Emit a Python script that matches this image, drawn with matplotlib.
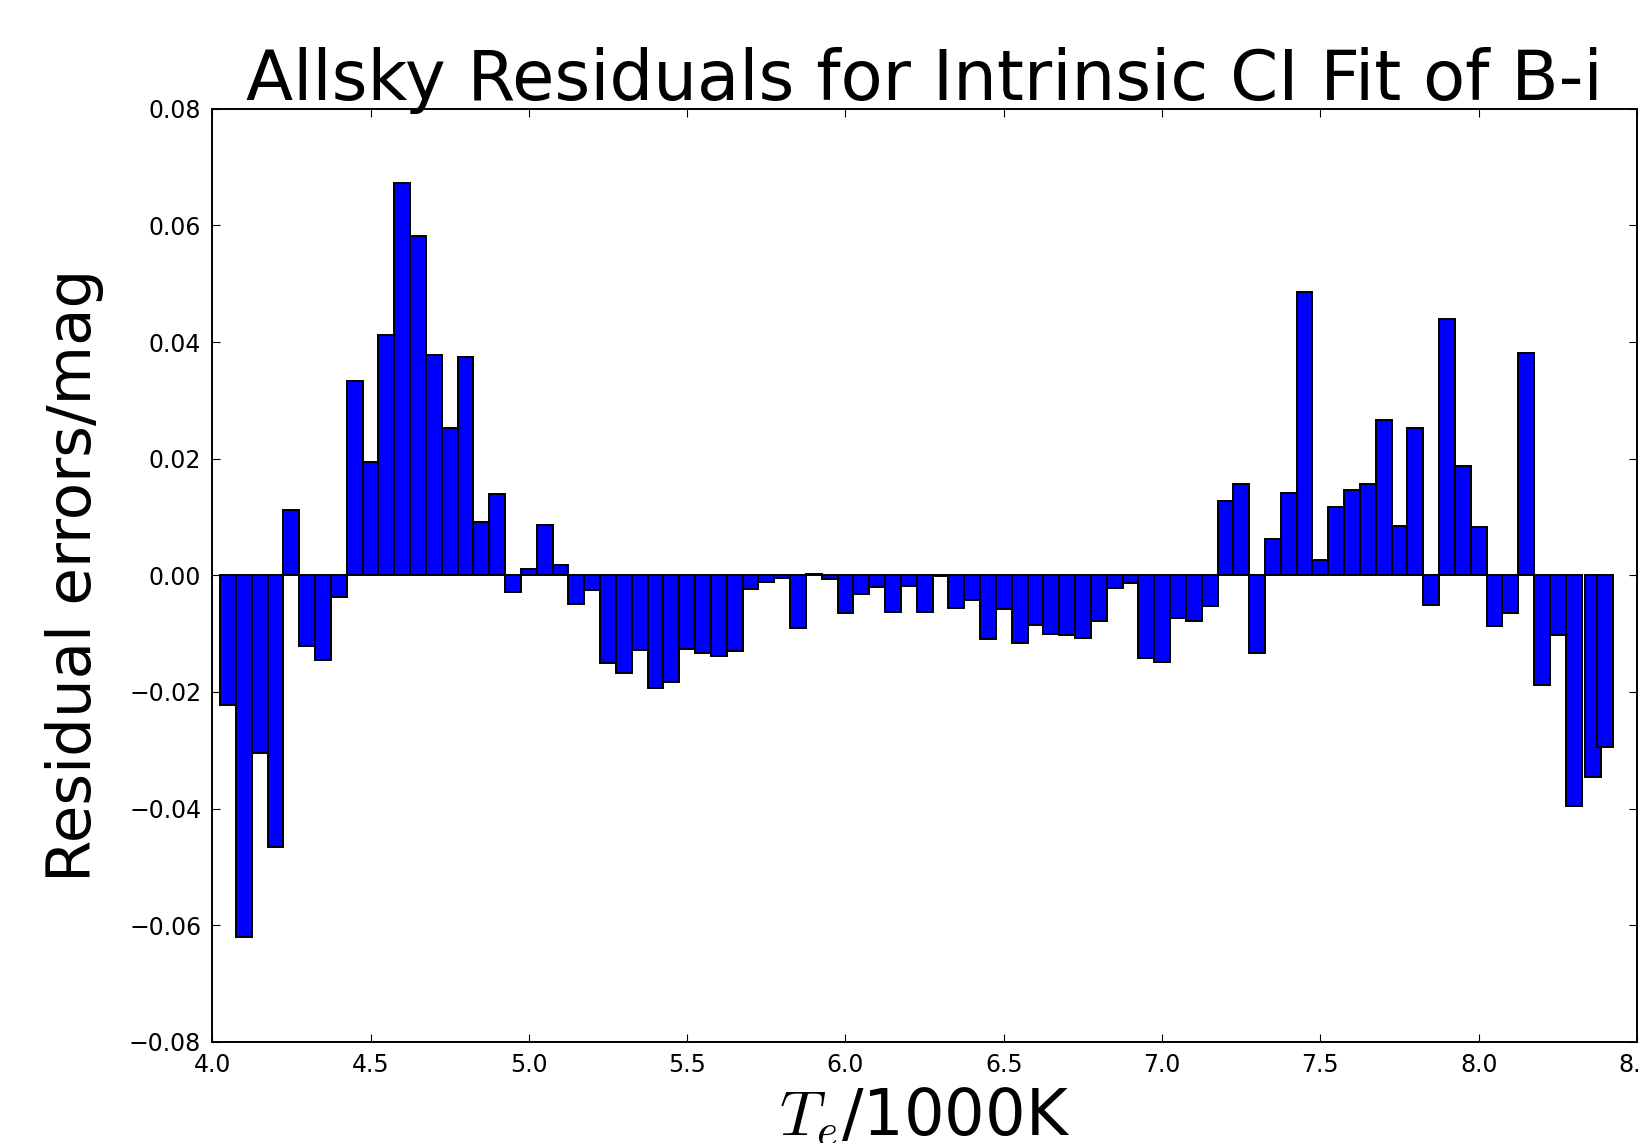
import numpy as np
import matplotlib
matplotlib.use("Agg")
import matplotlib.pyplot as plt

plt.rcParams['mathtext.fontset'] = 'cm'

# left edge of each temperature bin, in units of 1000 K
temps = [4.025, 4.075, 4.125, 4.175, 4.225, 4.275, 4.325, 4.375, 4.425, 4.475,
         4.525, 4.575, 4.625, 4.675, 4.725, 4.775, 4.825, 4.875, 4.925, 4.975,
         5.025, 5.075, 5.125, 5.175, 5.225, 5.275, 5.325, 5.375, 5.425, 5.475,
         5.525, 5.575, 5.625, 5.675, 5.725, 5.775, 5.825, 5.875, 5.925, 5.975,
         6.025, 6.075, 6.125, 6.175, 6.225, 6.275, 6.325, 6.375, 6.425, 6.475,
         6.525, 6.575, 6.625, 6.675, 6.725, 6.775, 6.825, 6.875, 6.925, 6.975,
         7.025, 7.075, 7.125, 7.175, 7.225, 7.275, 7.325, 7.375, 7.425, 7.475,
         7.525, 7.575, 7.625, 7.675, 7.725, 7.775, 7.825, 7.875, 7.925, 7.975,
         8.025, 8.075, 8.125, 8.175, 8.225, 8.275, 8.335, 8.375]

# mean residual in each bin (mag)
resid = [-0.0223, -0.0620, -0.0304, -0.0465, 0.0112, -0.0121, -0.0146, -0.0038, 0.0334, 0.0194,
         0.0412, 0.0672, 0.0582, 0.0377, 0.0252, 0.0374, 0.0092, 0.0140, -0.0029, 0.0010,
         0.0087, 0.0018, -0.0050, -0.0025, -0.0150, -0.0167, -0.0128, -0.0193, -0.0183, -0.0126,
         -0.0133, -0.0138, -0.0130, -0.0023, -0.0011, -0.0005, -0.0090, 0.0003, -0.0006, -0.0065,
         -0.0032, -0.0020, -0.0063, -0.0018, -0.0063, -0.0002, -0.0056, -0.0042, -0.0110, -0.0057,
         -0.0116, -0.0086, -0.0101, -0.0103, -0.0108, -0.0078, -0.0021, -0.0013, -0.0141, -0.0148,
         -0.0073, -0.0078, -0.0052, 0.0127, 0.0157, -0.0133, 0.0062, 0.0142, 0.0485, 0.0027,
         0.0118, 0.0147, 0.0157, 0.0267, 0.0085, 0.0252, -0.0051, 0.0440, 0.0188, 0.0082,
         -0.0087, -0.0065, 0.0382, -0.0188, -0.0103, -0.0395, -0.0345, -0.0295]

width = 0.05

fig = plt.figure(figsize=(16.39, 11.43), dpi=100)
ax = fig.add_axes([0.1295, 0.0884, 0.8693, 0.8165])

ax.bar(temps, resid, width=width, align='edge', color='#0000ff',
       edgecolor='black', linewidth=1.4)

ax.set_xlim(4.0, 8.5)
ax.set_ylim(-0.08, 0.08)
ax.set_xticks(np.arange(4.0, 8.51, 0.5))
ax.set_yticks(np.arange(-0.08, 0.081, 0.02))
ax.yaxis.set_major_formatter(
    matplotlib.ticker.FuncFormatter(lambda v, p: ('%.2f' % v).replace('-', '\u2212')))

ax.tick_params(direction='in', top=True, right=True, length=6, width=0.8,
               labelsize=17, pad=8)
for s in ax.spines.values():
    s.set_linewidth(1.4)

ax.set_title('Allsky Residuals for Intrinsic CI Fit of B-i', fontsize=49.6, pad=6)
ax.set_xlabel(r'$T_e$/1000K', fontsize=46, labelpad=6)
ax.set_ylabel('Residual errors/mag', fontsize=44, labelpad=18)

fig.savefig('out.png', dpi=100)
